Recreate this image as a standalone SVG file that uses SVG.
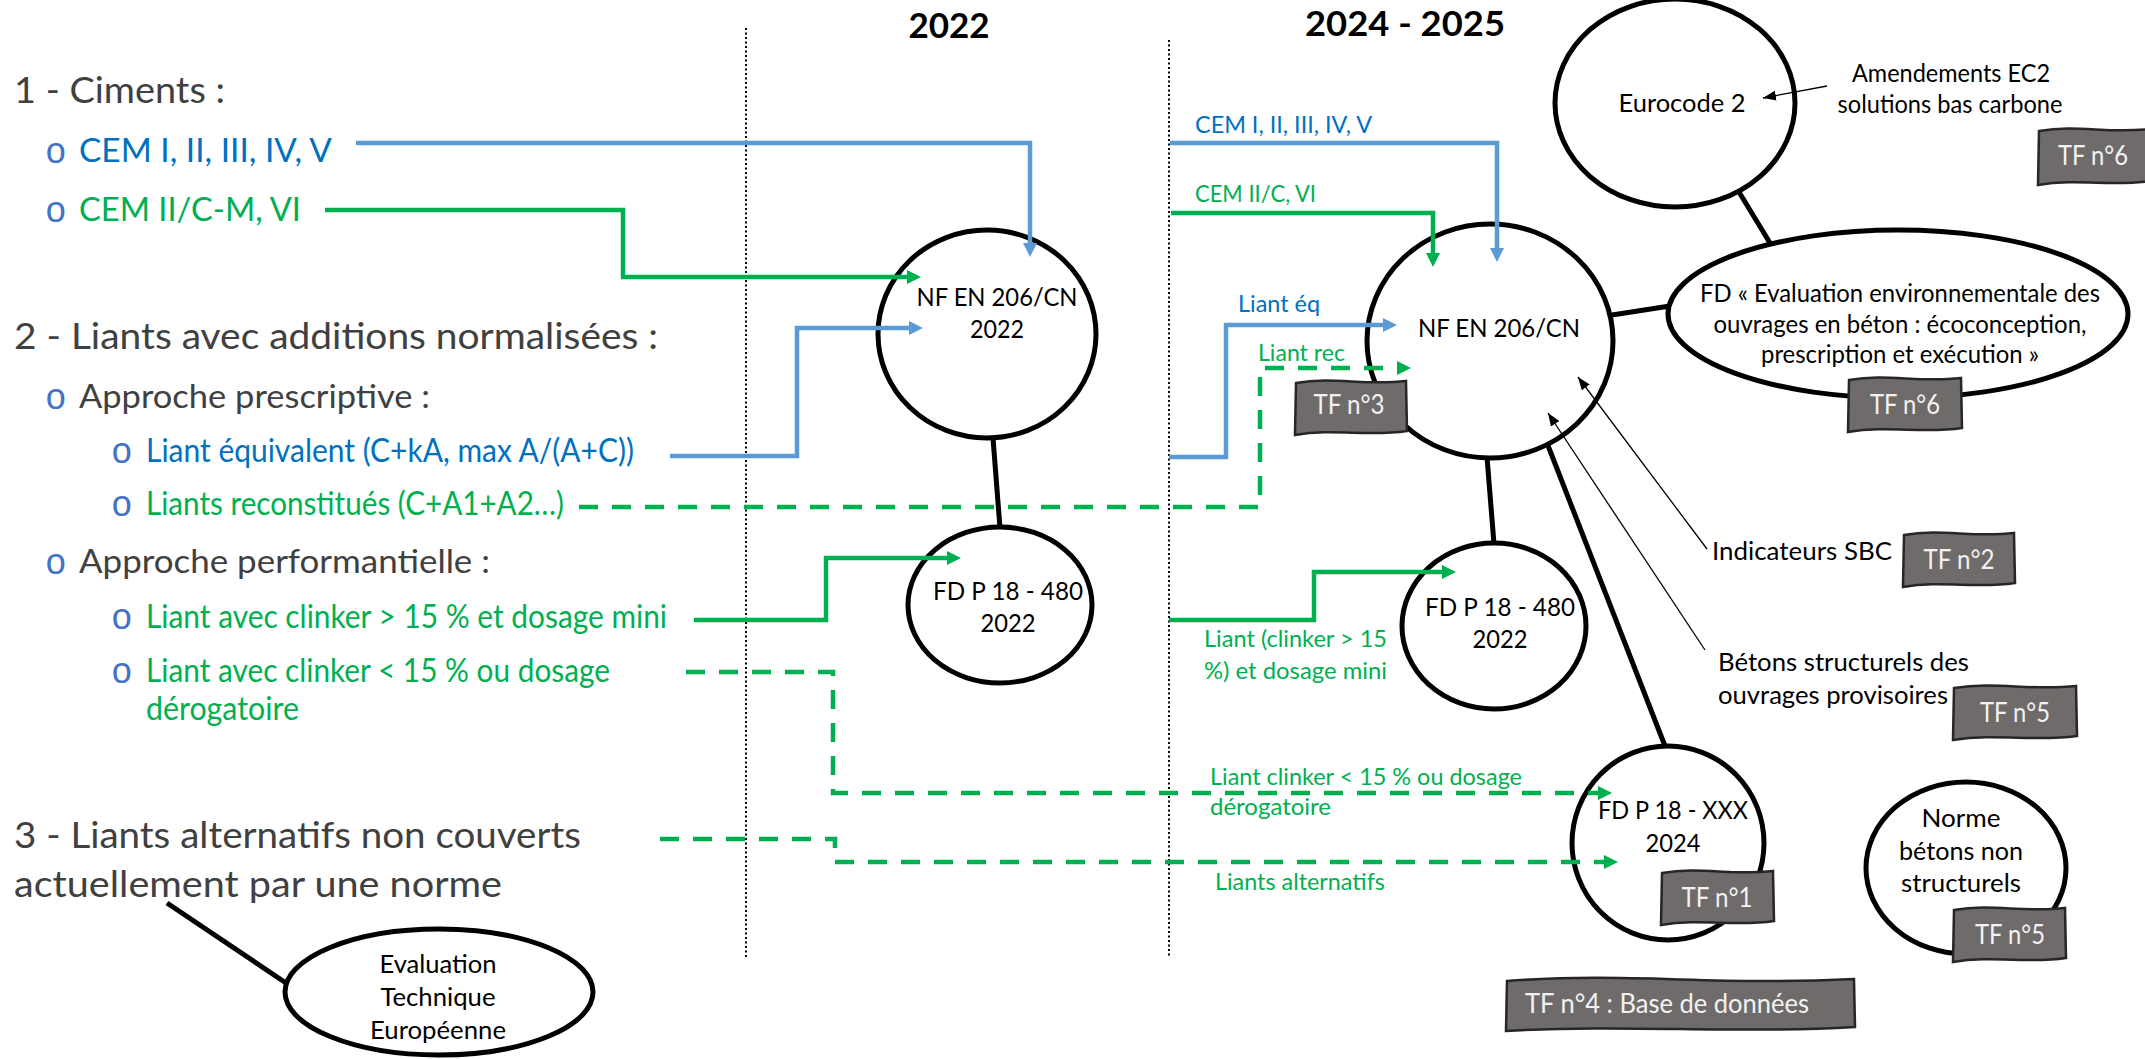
<svg xmlns="http://www.w3.org/2000/svg" width="2145" height="1059" viewBox="0 0 2145 1059">
<style>
text{font-family:Lato,"Liberation Sans",sans-serif}
.h1{font-size:36px;fill:#404040}
.h2{font-size:32px}
.grey{fill:#404040}
.blue{fill:#0070C0}
.green{fill:#00B050}
.bul{font-family:"Liberation Mono",monospace;font-size:36px;fill:#4472C4}
.title{font-size:35px;font-weight:bold;fill:#000}
.node{fill:#fff;stroke:#000;stroke-width:5}
.nt{font-size:25px;fill:#000;text-anchor:middle}
.lbl{font-size:23px}
.bt{font-size:25px;fill:#000}
.tf{fill:#6f6b6b;stroke:#262626;stroke-width:2.5}
.tft{font-size:26px;fill:#f2f2f2;text-anchor:middle}
.dot{stroke:#000;stroke-width:2;stroke-dasharray:2 2.5;fill:none}
.lb{fill:none;stroke:#5B9BD5;stroke-width:4.5}
.lg{fill:none;stroke:#00B050;stroke-width:4.5}
.dash{stroke-dasharray:19 14}
.lk{fill:none;stroke:#000;stroke-width:5}
.thin{fill:none;stroke:#000;stroke-width:1.3}
</style>
<defs>
<marker id="ab" markerUnits="userSpaceOnUse" markerWidth="14" markerHeight="14" viewBox="0 0 14 14" refX="1" refY="7" orient="auto"><path d="M0,0 L14,7 L0,14 Z" fill="#5B9BD5"/></marker>
<marker id="ag" markerUnits="userSpaceOnUse" markerWidth="14" markerHeight="14" viewBox="0 0 14 14" refX="1" refY="7" orient="auto"><path d="M0,0 L14,7 L0,14 Z" fill="#00B050"/></marker>
<marker id="ak" markerUnits="userSpaceOnUse" markerWidth="13" markerHeight="10" viewBox="0 0 13 10" refX="13" refY="5" orient="auto"><path d="M0,0 L13,5 L0,10 Z" fill="#000"/></marker>
</defs>
<rect width="2145" height="1059" fill="#fff"/>

<g id="headers">
<text class="title" x="949" y="38" text-anchor="middle">2022</text>
<text class="title" x="1305" y="36" textLength="200" lengthAdjust="spacingAndGlyphs">2024 - 2025</text>
<line class="dot" x1="746" y1="28" x2="746" y2="957"/>
<line class="dot" x1="1169" y1="40" x2="1169" y2="957"/>
</g>

<g id="list">
<text class="h1" x="14" y="103" textLength="211" lengthAdjust="spacingAndGlyphs">1 - Ciments :</text>
<text class="bul" x="45" y="163">o</text>
<text class="h2 blue" x="79" y="162" textLength="253" lengthAdjust="spacingAndGlyphs">CEM I, II, III, IV, V</text>
<text class="bul" x="45" y="222">o</text>
<text class="h2 green" x="79" y="221" textLength="222" lengthAdjust="spacingAndGlyphs">CEM II/C-M, VI</text>
<text class="h1" x="14" y="349" textLength="644" lengthAdjust="spacingAndGlyphs">2 - Liants avec additions normalisées :</text>
<text class="bul" x="45" y="409">o</text>
<text class="h2 grey" x="79" y="408" textLength="351" lengthAdjust="spacingAndGlyphs">Approche prescriptive :</text>
<text class="bul" x="111" y="463">o</text>
<text class="h2 blue" x="146" y="462" textLength="488" lengthAdjust="spacingAndGlyphs">Liant équivalent (C+kA, max A/(A+C))</text>
<text class="bul" x="111" y="516">o</text>
<text class="h2 green" x="146" y="515" textLength="418" lengthAdjust="spacingAndGlyphs">Liants reconstitués (C+A1+A2…)</text>
<text class="bul" x="45" y="574">o</text>
<text class="h2 grey" x="79" y="573" textLength="411" lengthAdjust="spacingAndGlyphs">Approche performantielle :</text>
<text class="bul" x="111" y="629">o</text>
<text class="h2 green" x="146" y="628" textLength="521" lengthAdjust="spacingAndGlyphs">Liant avec clinker &gt; 15 % et dosage mini</text>
<text class="bul" x="111" y="683">o</text>
<text class="h2 green" x="146" y="682" textLength="464" lengthAdjust="spacingAndGlyphs">Liant avec clinker &lt; 15 % ou dosage</text>
<text class="h2 green" x="146" y="720" textLength="153" lengthAdjust="spacingAndGlyphs">dérogatoire</text>
<text class="h1" x="14" y="848" textLength="567" lengthAdjust="spacingAndGlyphs">3 - Liants alternatifs non couverts</text>
<text class="h1" x="14" y="897" textLength="488" lengthAdjust="spacingAndGlyphs">actuellement par une norme</text>
</g>

<g id="n-nf2022">
<ellipse class="node" cx="987" cy="334" rx="109" ry="104"/>
<text class="nt" x="997" y="306" textLength="161" lengthAdjust="spacingAndGlyphs">NF EN 206/CN</text>
<text class="nt" x="997" y="338" textLength="54" lengthAdjust="spacingAndGlyphs">2022</text>
</g>
<g id="n-fd480-2022">
<ellipse class="node" cx="1000" cy="605" rx="92" ry="78"/>
<text class="nt" x="1008" y="600" textLength="150" lengthAdjust="spacingAndGlyphs">FD P 18 - 480</text>
<text class="nt" x="1008" y="632" textLength="55" lengthAdjust="spacingAndGlyphs">2022</text>
</g>
<g id="n-nf2024">
<ellipse class="node" cx="1490" cy="341" rx="123" ry="117"/>
<text class="nt" x="1499" y="337" textLength="162" lengthAdjust="spacingAndGlyphs">NF EN 206/CN</text>
</g>
<g id="n-fd480-2024">
<ellipse class="node" cx="1494" cy="626" rx="92" ry="83"/>
<text class="nt" x="1500" y="616" textLength="150" lengthAdjust="spacingAndGlyphs">FD P 18 - 480</text>
<text class="nt" x="1500" y="648" textLength="55" lengthAdjust="spacingAndGlyphs">2022</text>
</g>
<g id="n-fdxxx">
<ellipse class="node" cx="1668" cy="843" rx="96" ry="97"/>
<text class="nt" x="1673" y="819" textLength="150" lengthAdjust="spacingAndGlyphs">FD P 18 - XXX</text>
<text class="nt" x="1673" y="852" textLength="55" lengthAdjust="spacingAndGlyphs">2024</text>
</g>
<g id="n-eurocode">
<ellipse class="node" cx="1675" cy="103" rx="120" ry="104"/>
<text class="nt" x="1682" y="112" textLength="127" lengthAdjust="spacingAndGlyphs">Eurocode 2</text>
</g>
<g id="n-fdenv">
<ellipse class="node" cx="1898" cy="314" rx="230" ry="84"/>
<text class="nt" x="1900" y="302" textLength="400" lengthAdjust="spacingAndGlyphs">FD « Evaluation environnementale des</text>
<text class="nt" x="1900" y="333" textLength="373" lengthAdjust="spacingAndGlyphs">ouvrages en béton : écoconception,</text>
<text class="nt" x="1900" y="363" textLength="278" lengthAdjust="spacingAndGlyphs">prescription et exécution »</text>
</g>
<g id="n-norme">
<ellipse class="node" cx="1966" cy="868" rx="100" ry="86"/>
<text class="nt" x="1961" y="827" textLength="79" lengthAdjust="spacingAndGlyphs">Norme</text>
<text class="nt" x="1961" y="860" textLength="124" lengthAdjust="spacingAndGlyphs">bétons non</text>
<text class="nt" x="1961" y="892" textLength="120" lengthAdjust="spacingAndGlyphs">structurels</text>
</g>
<g id="n-ete">
<ellipse class="node" cx="439" cy="992" rx="154" ry="63"/>
<text class="nt" x="438" y="973" textLength="117" lengthAdjust="spacingAndGlyphs">Evaluation</text>
<text class="nt" x="438" y="1006" textLength="115" lengthAdjust="spacingAndGlyphs">Technique</text>
<text class="nt" x="438" y="1039" textLength="136" lengthAdjust="spacingAndGlyphs">Européenne</text>
</g>

<g id="connectors">
<path class="lb" d="M356,143 H1030 V244" marker-end="url(#ab)"/>
<path class="lg" d="M325,210 H623 V277 H908" marker-end="url(#ag)"/>
<path class="lb" d="M670,456 H797 V328 H910" marker-end="url(#ab)"/>
<path class="lg dash" d="M579,507 H1260 V368 H1398" marker-end="url(#ag)"/>
<path class="lg" d="M694,620 H826 V558 H948" marker-end="url(#ag)"/>
<path class="lg dash" d="M686,672 H833 V793 H1599" marker-end="url(#ag)"/>
<path class="lg dash" d="M660,839 H835 V862 H1605" marker-end="url(#ag)"/>
<path class="lb" d="M1170,143 H1497 V249" marker-end="url(#ab)"/>
<path class="lg" d="M1171,213 H1433 V254" marker-end="url(#ag)"/>
<path class="lb" d="M1169,457 H1226 V325 H1384" marker-end="url(#ab)"/>
<path class="lg" d="M1169,620 H1314 V572 H1443" marker-end="url(#ag)"/>
<path class="lk" d="M993,438 L1000,528"/>
<path class="lk" d="M1487,457 L1494,544"/>
<path class="lk" d="M1547,443 L1665,746"/>
<path class="lk" d="M1612,315 L1670,306"/>
<path class="lk" d="M1739,192 L1770,243"/>
<path class="lk" d="M167,903 L286,983"/>
<path class="thin" d="M1827,86 L1763,98" marker-end="url(#ak)"/>
<path class="thin" d="M1707,549 L1578,377" marker-end="url(#ak)"/>
<path class="thin" d="M1705,650 L1548,413" marker-end="url(#ak)"/>
</g>

<g id="labels">
<text class="lbl blue" x="1195" y="133" textLength="177" lengthAdjust="spacingAndGlyphs">CEM I, II, III, IV, V</text>
<text class="lbl green" x="1195" y="202" textLength="121" lengthAdjust="spacingAndGlyphs">CEM II/C, VI</text>
<text class="lbl blue" x="1238" y="312" textLength="82" lengthAdjust="spacingAndGlyphs">Liant éq</text>
<text class="lbl green" x="1258" y="361" textLength="87" lengthAdjust="spacingAndGlyphs">Liant rec</text>
<text class="lbl green" x="1204" y="647" textLength="183" lengthAdjust="spacingAndGlyphs">Liant (clinker &gt; 15</text>
<text class="lbl green" x="1204" y="679" textLength="183" lengthAdjust="spacingAndGlyphs">%) et dosage mini</text>
<text class="lbl green" x="1210" y="785" textLength="312" lengthAdjust="spacingAndGlyphs">Liant clinker &lt; 15 % ou dosage</text>
<text class="lbl green" x="1210" y="815" textLength="121" lengthAdjust="spacingAndGlyphs">dérogatoire</text>
<text class="lbl green" x="1215" y="890" textLength="170" lengthAdjust="spacingAndGlyphs">Liants alternatifs</text>
<text class="bt" x="1951" y="82" text-anchor="middle" textLength="198" lengthAdjust="spacingAndGlyphs">Amendements EC2</text>
<text class="bt" x="1950" y="113" text-anchor="middle" textLength="225" lengthAdjust="spacingAndGlyphs">solutions bas carbone</text>
<text class="bt" x="1712" y="560" textLength="180" lengthAdjust="spacingAndGlyphs">Indicateurs SBC</text>
<text class="bt" x="1718" y="671" textLength="251" lengthAdjust="spacingAndGlyphs">Bétons structurels des</text>
<text class="bt" x="1718" y="704" textLength="230" lengthAdjust="spacingAndGlyphs">ouvrages provisoires</text>
</g>

<g id="tf3"><path class="tf" d="M1296,383 C1334,376 1362,386 1406,381 L1407,431 C1367,437 1334,428 1295,435 Z"/><text class="tft" x="1349" y="414" textLength="71" lengthAdjust="spacingAndGlyphs">TF n°3</text></g>
<g id="tf6a"><path class="tf" d="M2039,131 C2078,124 2106,134 2151,129 L2151,181 C2112,187 2078,178 2038,185 Z"/><text class="tft" x="2093" y="165" textLength="70" lengthAdjust="spacingAndGlyphs">TF n°6</text></g>
<g id="tf6b"><path class="tf" d="M1849,380 C1888,373 1916,383 1961,378 L1962,428 C1923,434 1888,425 1848,432 Z"/><text class="tft" x="1905" y="414" textLength="70" lengthAdjust="spacingAndGlyphs">TF n°6</text></g>
<g id="tf2"><path class="tf" d="M1904,535 C1942,528 1970,538 2014,533 L2015,583 C1976,589 1942,580 1903,587 Z"/><text class="tft" x="1959" y="569" textLength="71" lengthAdjust="spacingAndGlyphs">TF n°2</text></g>
<g id="tf5a"><path class="tf" d="M1954,688 C1997,681 2027,691 2076,686 L2077,736 C2034,742 1997,733 1953,740 Z"/><text class="tft" x="2015" y="722" textLength="70" lengthAdjust="spacingAndGlyphs">TF n°5</text></g>
<g id="tf1"><path class="tf" d="M1662,873 C1701,866 1729,876 1773,871 L1774,921 C1735,927 1701,918 1661,925 Z"/><text class="tft" x="1717" y="907" textLength="71" lengthAdjust="spacingAndGlyphs">TF n°1</text></g>
<g id="tf5b"><path class="tf" d="M1954,910 C1993,903 2021,913 2065,908 L2066,958 C2027,964 1993,955 1953,962 Z"/><text class="tft" x="2010" y="944" textLength="70" lengthAdjust="spacingAndGlyphs">TF n°5</text></g>
<g id="tf4"><path class="tf" d="M1507,981 C1628,972 1715,986 1854,979 L1855,1027 C1733,1034 1628,1024 1506,1031 Z"/><text class="tft" x="1525" y="1013" style="text-anchor:start" textLength="284" lengthAdjust="spacingAndGlyphs">TF n°4 : Base de données</text></g>
</svg>
